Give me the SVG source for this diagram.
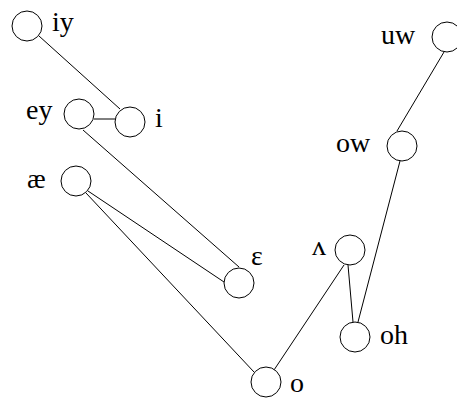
<svg xmlns="http://www.w3.org/2000/svg" width="457" height="398" viewBox="0 0 457 398">
<style>
circle{fill:#fff;stroke:#000;stroke-width:1}
text{font-family:"Liberation Serif","Times New Roman",serif;font-size:28px;fill:#000}
line{stroke:#000;stroke-width:1}
</style>
<rect width="457" height="398" fill="#fff"/>
<g id="edges">
<line x1="39" y1="36" x2="120" y2="109"/>
<line x1="94" y1="119" x2="115" y2="119"/>
<line x1="83" y1="130" x2="239" y2="267"/>
<line x1="88" y1="191" x2="224" y2="282"/>
<line x1="86" y1="193" x2="254" y2="372"/>
<line x1="274" y1="370" x2="344" y2="265"/>
<line x1="348" y1="265" x2="353" y2="322"/>
<line x1="444" y1="52" x2="397" y2="131"/>
<line x1="400" y1="161" x2="358" y2="322"/>
</g>
<g id="iy"><circle cx="27" cy="26" r="15"/><text x="52" y="31">iy</text></g>
<g id="i"><circle cx="130" cy="122" r="15"/><text x="155" y="127">i</text></g>
<g id="ey"><circle cx="79" cy="114" r="15"/><text x="26" y="119">ey</text></g>
<g id="ae"><circle cx="76" cy="181" r="15"/><text x="27" y="188">æ</text></g>
<g id="eh"><circle cx="239" cy="283" r="15"/><text x="251" y="265">ɛ</text></g>
<g id="o"><circle cx="266" cy="382" r="15"/><text x="290" y="392">o</text></g>
<g id="uw"><circle cx="447" cy="37" r="15"/><text x="381" y="44">uw</text></g>
<g id="ow"><circle cx="402" cy="146" r="15"/><text x="336" y="152">ow</text></g>
<g id="uh"><circle cx="350" cy="250" r="15"/><text x="312" y="255">ʌ</text></g>
<g id="oh"><circle cx="355" cy="337" r="15"/><text x="380" y="344">oh</text></g>
</svg>
